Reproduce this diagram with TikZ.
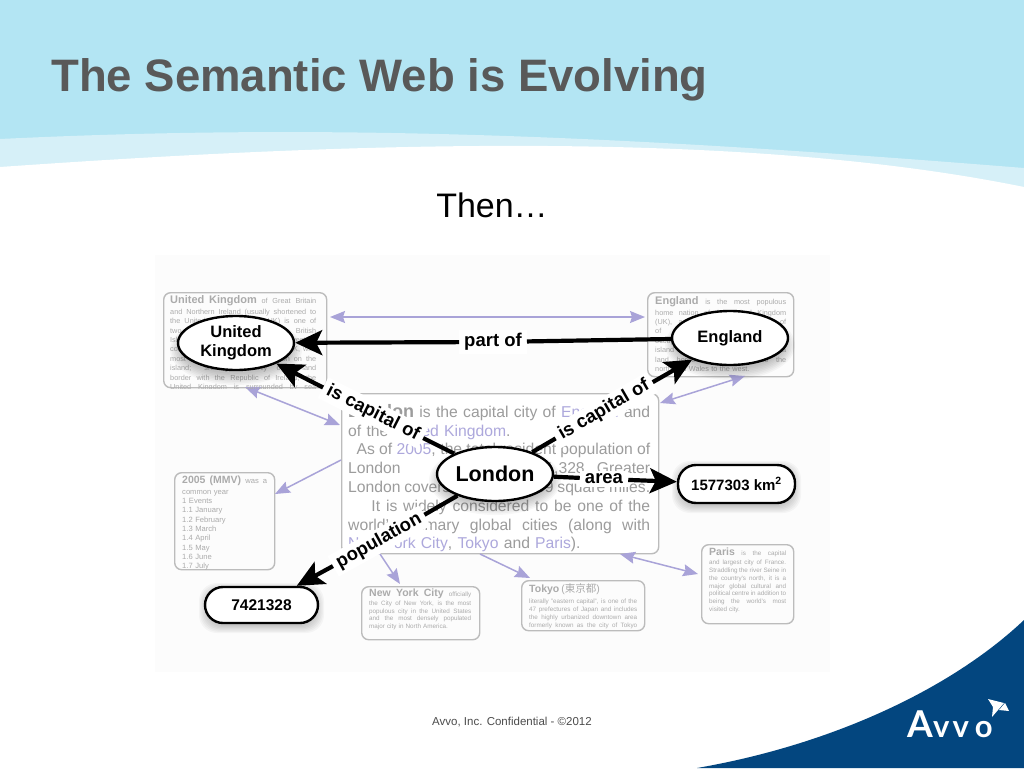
\documentclass[tikz,border=0pt]{standalone}
\usepackage{fontspec}
\setmainfont{Liberation Sans}
\newfontfamily\cjkf{Noto Sans CJK JP}
\newfontfamily\logof{Lato}
\usetikzlibrary{arrows.meta,shapes.geometric,calc}
\definecolor{skyb}{HTML}{B3E5F3}
\definecolor{skyl}{HTML}{D6F0F8}
\definecolor{navy}{HTML}{03467F}
\definecolor{lilac}{HTML}{A9A3D8}
\definecolor{boxg}{HTML}{BCBCBC}
\definecolor{txtg}{HTML}{ABABAB}
\definecolor{bigg}{HTML}{9C9C9C}
\definecolor{linkc}{HTML}{ADA8DC}
\newcommand\fs[2]{\fontsize{#1}{#2}\selectfont}
\newcommand\J[1]{\leavevmode\hbox to \hsize{\spaceskip=.18em plus 1fil\relax #1}\\}
\newcommand\Ts[2]{{\fontsize{#1}{#1}\selectfont\bfseries #2}}
\newcommand\ovalshadow[3]{\foreach \k in {0,...,7}{\fill[black,opacity=.03] (#1,#2) ellipse ({#3+8-1.6*\k} and {27+8-1.6*\k});}}
\newcommand\pillshadow[4]{\foreach \k in {0,...,7}{\fill[black,opacity=.03,rounded corners=18] ({#1-6+1.2*\k},{#2-4+1.2*\k}) rectangle ({#3+6-1.2*\k},{#4+10-1.2*\k});}}
\tikzset{
  wikibox/.style={draw=boxg,line width=1.4,rounded corners=7,inner sep=0,anchor=north west},
  wikitext/.style={inner sep=0,anchor=north west,align=left,text=txtg},
  bigoval/.style={ellipse,draw=black,line width=2.4,fill=white,inner sep=0,minimum width=116,minimum height=54,font=\fs{16.5}{19}\bfseries,align=center},
  valbox/.style={draw=black,line width=2.4,fill=white,rounded corners=18,inner sep=0,font=\fs{15.5}{17}\bfseries},
  rel/.style={fill=white,inner xsep=5,inner ysep=3,font=\fs{18.5}{20}\bfseries},
  relline/.style={line width=4.2,black},
  relarrow/.style={line width=4.2,black,-{Stealth[length=27,width=25,inset=6]}},
  link/.style={line width=1.5,lilac,-{Stealth[length=15,width=12,inset=2]}},
  linkb/.style={line width=1.5,lilac,{Stealth[length=15,width=12,inset=2]}-{Stealth[length=15,width=12,inset=2]}},
}
\begin{document}
\begin{tikzpicture}[x=1pt,y=-1pt]
\useasboundingbox (0,0) rectangle (1024,768);
\fill[white] (0,0) rectangle (1024,768);
% header
\fill[skyb] (0,0) -- (1024,0) -- (1024,187) -- (0,187) -- cycle;
\fill[skyl] (0,139) .. controls (350,122) and (650,138) .. (1024,168) -- (1024,200) -- (0,200) -- cycle;
\fill[white] (0,167) .. controls (300,146) and (720,125) .. (1024,187) -- (1024,260) -- (0,260) -- cycle;
% corner
\fill[navy] (697,768) .. controls (830,745) and (950,690) .. (1024,620) -- (1024,768) -- cycle;
\node[anchor=base west,inner sep=0,text=white,font=\logof\bfseries\fs{37}{40}] (logoa) at (907,737) {A};
\node[anchor=base west,inner sep=0,text=white,font=\logof\bfseries\fs{31}{36}] (logob) at (933,737) {v\kern3pt v\kern6pt o};
\fill[white] (988,699) -- (1004,703) -- (992,717) -- (993,707) -- cycle;
\fill[white] (1005,703) -- (1009,711) -- (999,710) -- cycle;
\node[anchor=base west,inner sep=0,text=black!65,font=\fs{45.5}{50}\bfseries] (title) at (51,91) {The Semantic Web is Evolving};
\node[anchor=base,inner sep=0,font=\fs{34}{36}] (then) at (492,217) {Then…};
\node[inner sep=0,text=black!70,font=\fs{11.5}{13}] (foot) at (512,722) {Avvo, Inc. Confidential - ©2012};
% image ground
\fill[black!1] (155,255) rectangle (830,672);
% wiki boxes
\node[wikibox,minimum width=163,minimum height=95] (ukbox) at (163,292) {};
\node[wikibox,minimum width=146,minimum height=84] (enbox) at (647,292) {};
\node[wikibox,minimum width=317,minimum height=160,fill=white] (lonbox) at (341,393) {};
\node[wikibox,minimum width=100,minimum height=97] (yrbox) at (174,472) {};
\node[wikibox,minimum width=118,minimum height=53] (nybox) at (361,586) {};
\node[wikibox,minimum width=123,minimum height=50] (tkbox) at (521,580) {};
\node[wikibox,minimum width=92,minimum height=79] (pabox) at (701,544) {};
% link ends
\coordinate (l1a) at (330,317); \coordinate (l1b) at (645,317);
\coordinate (l2a) at (245,387); \coordinate (l2b) at (340,425);
\coordinate (l3a) at (341,460); \coordinate (l3b) at (275,494);
\coordinate (l4a) at (380,554); \coordinate (l4b) at (400,584);
\coordinate (l5a) at (480,554); \coordinate (l5b) at (530,578);
\coordinate (l6a) at (620,554); \coordinate (l6b) at (698,574);
\coordinate (l7a) at (660,403); \coordinate (l7b) at (745,376);
\draw[linkb] (l1a) -- (l1b);
\draw[linkb] (l2a) -- (l2b);
\draw[link] (l3a) -- (l3b);
\draw[link] (l4a) -- (l4b);
\draw[link] (l5a) -- (l5b);
\draw[linkb] (l6a) -- (l6b);
\draw[linkb] (l7a) -- (l7b);
% wiki text
\begin{scope}
\clip (ukbox.north west) rectangle (ukbox.south east);
\node[wikitext,text width=146,font=\fs{7.3}{9.45}] (uktext) at (170,295.5) {%
\J{\Ts{11}{United Kingdom} of Great Britain}[1pt]
\J{and Northern Ireland (usually shortened to}
\J{the United Kingdom or the UK) is one of}
\J{two independent states of the British}
\J{Isles and lies off the north western}
\J{coast of mainland Europe and the UK, with}
\J{most of its territory and population on the}
\J{island; sharing its only other land}
\J{border with the Republic of Ireland, the}
\J{United Kingdom is surrounded by sea}};
\end{scope}
\node[wikitext,text width=131,font=\fs{7.3}{9.4}] (entext) at (655,296.5) {%
\J{\Ts{11}{England} is the most populous}[1pt]
\J{home nation of the United Kingdom}
\J{(UK), accounting for 83 percent of}
\J{of the total population, and}
\J{occupies the southern two thirds}
\J{island of Great Britain, sharing a}
\J{land border with Scotland to the}
north and Wales to the west.};
\node[wikitext,text width=302,text=bigg,font=\fs{15.7}{18.8}] (lontext) at (348,404) {%
\J{\textbf{\fontsize{18}{18}\selectfont London} is the capital city of \textcolor{linkc}{England} and}
of the \textcolor{linkc}{United Kingdom}.\\
\J{\ \ As of \textcolor{linkc}{2005}, the total resident population of}
\J{London was 7,421,328. Greater}
\J{London covers an area of 609 square miles.}
\J{\ \ \ \ It is widely considered to be one of the}
\J{world's primary global cities (along with}
\textcolor{linkc}{New York City}, \textcolor{linkc}{Tokyo} and \textcolor{linkc}{Paris}).};
\begin{scope}
\clip (yrbox.north west) rectangle (yrbox.south east);
\node[wikitext,text width=85,font=\fs{7.6}{9.35}] (yrtext) at (182,476) {%
\J{\Ts{10.5}{2005 (MMV)} was a}[1pt]
common year\\ 1 Events\\ 1.1 January\\ 1.2 February\\ 1.3 March\\ 1.4 April\\ 1.5 May\\ 1.6 June\\ 1.7 July};
\end{scope}
\node[wikitext,text width=102,font=\fs{6.3}{7.7}] (nytext) at (369,589) {%
\J{\Ts{10.5}{New York City} officially}[1pt]
\J{the City of New York, is the most}
\J{populous city in the United States}
\J{and the most densely populated}
major city in North America.};
\begin{scope}
\clip (tkbox.north west) rectangle (tkbox.south east);
\node[wikitext,text width=108,font=\fs{6.3}{8}] (tktext) at (529,583.5) {%
{\Ts{10.5}{Tokyo} {\fontsize{10.5}{10.5}\selectfont(\cjkf 東京都\rmfamily)}}\\[3pt]
\J{literally "eastern capital", is one of the}
\J{47 prefectures of Japan and includes}
\J{the highly urbanized downtown area}
\J{formerly known as the city of Tokyo}};
\end{scope}
\node[wikitext,text width=77,font=\fs{6.3}{7.8}] (patext) at (709,548) {%
\J{\Ts{10.5}{Paris} is the capital}[1pt]
\J{and largest city of France.}
\J{Straddling the river Seine in}
\J{the country's north, it is a}
\J{major global cultural and}
\J{political centre in addition to}
\J{being the world's most}
visited city.};
% shadows
\ovalshadow{236}{350}{58}
\ovalshadow{730}{345}{57}
\ovalshadow{495}{480}{58}
\pillshadow{678}{465}{795}{503}
\pillshadow{205}{587}{318}{623}
% main graph
\node[bigoval] (uk) at (236,343) {United\\Kingdom};
\node[bigoval] (eng) at (730,338) {England};
\node[bigoval,font=\fs{21.5}{23}\bfseries] (lon) at (495,474) {London};
\node[valbox,minimum width=117,minimum height=38] (area) at (736.5,484) {\fs{15}{17}1577303 km\textsuperscript{2}};
\node[valbox,minimum width=113,minimum height=36] (pop) at (261.5,605) {7421328};
\node[rel] (lpart) at (493,342) {part of};
\node[rel,rotate=-27] (lcapl) at (373,413) {is capital of};
\node[rel,rotate=30] (lcapr) at (604,410) {is capital of};
\node[rel] (larea) at (604,479) {area};
\node[rel,rotate=29] (lpop) at (379,541) {population};
\draw[relline] (eng) -- (lpart);
\draw[relarrow] (lpart) -- (uk);
\draw[relline] (lon) -- (lcapl);
\draw[relarrow] (lcapl) -- (uk);
\draw[relline] (lon) -- (lcapr);
\draw[relarrow] (lcapr) -- (eng);
\draw[relline] (lon) -- (larea);
\draw[relarrow] (larea) -- (area);
\draw[relline] (lon) -- (lpop);
\draw[relarrow] (lpop) -- (pop);
\end{tikzpicture}
\end{document}
